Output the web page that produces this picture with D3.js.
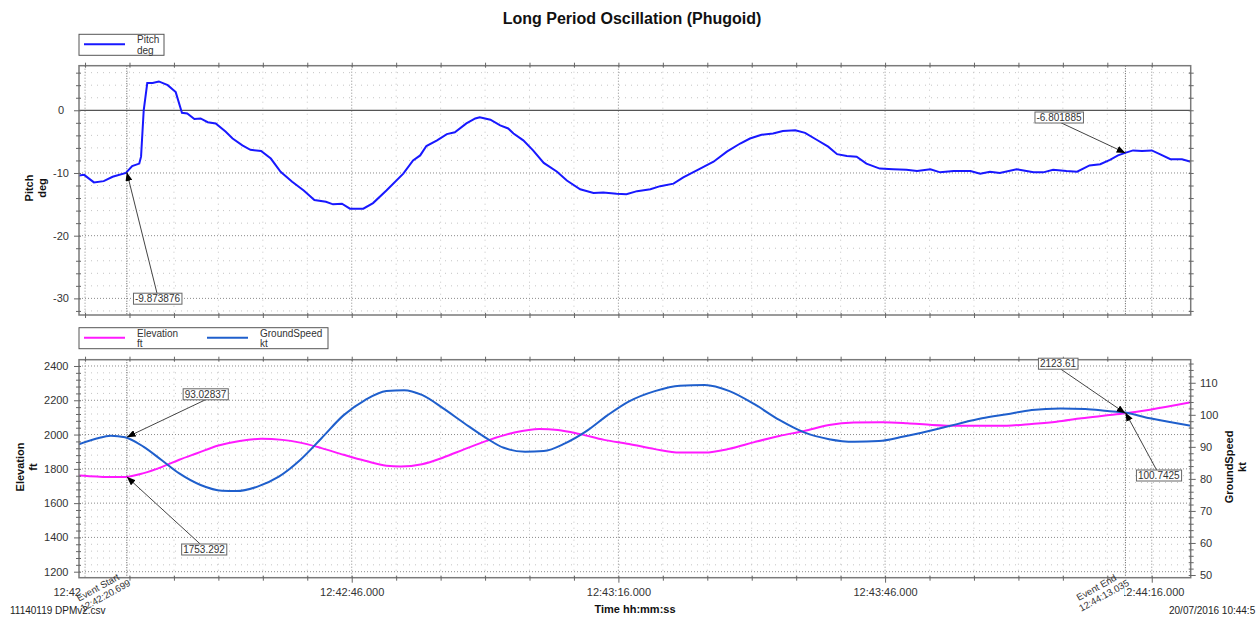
<!DOCTYPE html>
<html>
<head>
<meta charset="utf-8">
<title>Long Period Oscillation (Phugoid)</title>
<script src="https://d3js.org/d3.v7.min.js"></script>
<style>
  body { margin: 0; background: #fff; }
  svg { display: block; }
</style>
</head>
<body>
<svg id="chart"></svg>
<script>
// all times are seconds after 12:42:00
const pitchTime = [15.3, 15.9, 17.0, 18.1, 19.1, 20.6, 21.3, 22.1, 22.3, 22.6, 23.0, 23.6, 24.3, 25.3, 26.2, 26.9,
  27.5, 28.3, 29.0, 29.8, 30.7, 31.8, 32.6, 33.7, 34.6, 35.8, 36.9, 38.0, 39.3, 40.6, 41.8, 43.1, 43.9, 44.9,
  45.8, 47.3, 48.4, 49.9, 51.8, 52.9, 53.7, 54.4, 55.6, 56.7, 57.6, 58.9, 59.9, 60.4, 61.6, 62.7, 63.6, 64.2,
  65.3, 66.4, 67.6, 69.1, 70.2, 71.7, 73.2, 74.3, 75.8, 76.9, 78.1, 79.6, 80.7, 82.2, 83.3, 85.2, 86.7, 88.2,
  89.7, 90.8, 92.1, 93.4, 94.5, 95.9, 97.0, 98.3, 99.6, 100.6, 101.7, 102.8, 103.9, 105.4, 106.9, 108.4, 109.6,
  111.1, 112.2, 113.7, 115.6, 116.7, 117.8, 118.9, 120.8, 122.7, 123.8, 124.9, 126.4, 127.6, 129.0, 130.2,
  131.3, 132.2, 133.0, 133.9, 134.9, 136.0, 136.9, 138.1, 139.4, 140.4];
const pitchDeg = [-10.4, -10.3, -11.5, -11.3, -10.6, -10.0, -8.9, -8.5, -7.4, 0.0, 4.35, 4.35, 4.6, 4.0, 2.9, -0.4,
  -0.5, -1.4, -1.3, -1.9, -2.1, -3.4, -4.5, -5.6, -6.3, -6.5, -7.7, -9.8, -11.4, -12.8, -14.3, -14.6, -15.0, -14.9,
  -15.7, -15.7, -14.8, -12.8, -10.1, -8.0, -7.2, -5.7, -4.8, -3.8, -3.5, -2.1, -1.3, -1.1, -1.5, -2.4, -2.9, -3.7,
  -4.8, -6.4, -8.4, -9.8, -11.2, -12.6, -13.2, -13.1, -13.3, -13.4, -12.9, -12.6, -12.1, -11.7, -10.7, -9.3, -8.2, -6.6,
  -5.3, -4.5, -3.9, -3.7, -3.3, -3.2, -3.6, -4.7, -5.8, -7.0, -7.3, -7.4, -8.5, -9.3, -9.4, -9.5, -9.7,
  -9.4, -9.9, -9.7, -9.7, -10.1, -9.8, -10.0, -9.4, -9.9, -9.9, -9.5, -9.7, -9.8, -8.8, -8.6,
  -7.9, -7.2, -6.8, -6.4, -6.5, -6.4, -7.0, -7.8, -7.8, -8.2];

const elevTime = [15.3, 17.3, 18.9, 20.5, 22.6, 24.6, 26.6, 28.6, 31.0, 33.4, 35.8, 38.2, 40.2, 42.6, 45.1, 47.5,
  49.9, 51.5, 53.9, 56.3, 58.7, 61.5, 64.3, 67.1, 69.2, 71.6, 74.4, 77.2, 80.1, 82.9, 85.7, 88.5, 91.3, 94.1,
  96.9, 99.7, 102.5, 105.7, 108.5, 111.3, 114.1, 116.9, 119.7, 122.5, 125.3, 128.1, 131.0, 133.0, 135.8, 140.4];
const elevFt = [1761, 1755, 1752, 1753, 1775, 1810, 1853, 1891, 1936, 1963, 1975, 1969, 1953, 1921, 1882, 1847,
  1818, 1814, 1827, 1866, 1915, 1969, 2012, 2033, 2027, 2004, 1969, 1945, 1915, 1895, 1895, 1917, 1956, 1992,
  2021, 2056, 2070, 2072, 2066, 2056, 2051, 2051, 2052, 2062, 2075, 2095, 2112, 2124, 2145, 2188];

const speedTime = [15.3, 17.3, 18.9, 20.5, 22.6, 24.6, 26.6, 29.0, 31.4, 33.0, 35.4, 37.8, 40.2, 42.6, 45.1, 47.5,
  49.9, 51.9, 53.9, 56.3, 58.7, 61.1, 63.1, 65.5, 67.6, 70.0, 72.4, 74.8, 77.2, 80.1, 82.9, 85.7, 88.5, 91.3,
  94.1, 96.9, 99.7, 102.5, 105.3, 108.1, 111.3, 114.1, 116.9, 119.7, 122.5, 125.7, 128.5, 131.0, 133.0, 135.8, 140.4];
const speedKt = [90.8, 92.6, 93.5, 93.0, 90.0, 85.9, 81.7, 78.1, 76.3, 76.2, 77.6, 80.7, 85.9, 92.7, 99.9, 104.6,
  107.4, 107.7, 106.2, 102.0, 97.3, 92.8, 89.7, 88.5, 88.7, 91.1, 94.9, 99.9, 104.2, 107.4, 109.1, 109.3, 107.4, 103.3,
  98.4, 94.5, 92.4, 91.6, 91.8, 93.2, 95.2, 97.1, 98.9, 100.2, 101.5, 102.0, 101.8, 101.2, 100.7, 98.9, 96.6];

const timeTicks = [16, 46, 76, 106, 136];
const timeTickLabels = ["12:42:16.000", "12:42:46.000", "12:43:16.000", "12:43:46.000", "12:44:16.000"];
const pitchTicks = [0, -10, -20, -30];
const elevTicks = [1200, 1400, 1600, 1800, 2000, 2200, 2400];
const speedTicks = [50, 60, 70, 80, 90, 100, 110];

const eventTime = [20.699, 133.035];
const eventName = ["Event Start", "Event End"];
const eventLabel = ["12:42:20.699", "12:44:13.035"];
const pitchMarks = [-9.873876, -6.801885];
const elevMarks = [1753.292, 2123.61];
const speedMarks = [93.02837, 100.7425];

const W = 1256, H = 617;
const FONT = "'Liberation Sans', Arial, sans-serif";
const L = 79, R = 1190.7;
const top1 = 65.7, bot1 = 315, top2 = 359.7, bot2 = 577.7;

const base = new Date(2016, 6, 20, 12, 42, 0).getTime();
const toDate = s => new Date(base + s * 1000);

const svg = d3.select("#chart").attr("width", W).attr("height", H)
  .attr("font-family", FONT);

const x = d3.scaleTime().domain([toDate(15.32), toDate(140.38)]).range([L, R]);
const yP = d3.scaleLinear().domain([-32.65, 7.11]).range([bot1, top1]);
const yE = d3.scaleLinear().domain([1165, 2436.7]).range([bot2, top2]);
const yS = d3.scaleLinear().domain([49.16, 117.2]).range([bot2, top2]);

const timeMinor = d3.range(16, 141, 5).filter(d => !timeTicks.includes(d)).map(toDate);
const timeMajor = timeTicks.map(toDate);
const pitchMinor = d3.range(-32, 7, 2).filter(d => d % 10 !== 0);
const elevMinor = d3.range(1200, 2440, 40).filter(d => d % 200 !== 0);
const speedMinor = d3.range(50, 118, 2).filter(d => d % 10 !== 0);

const defs = svg.append("defs");
defs.append("clipPath").attr("id", "clip1").append("rect")
  .attr("x", L).attr("y", top1).attr("width", R - L).attr("height", bot1 - top1);
defs.append("clipPath").attr("id", "clip2").append("rect")
  .attr("x", L).attr("y", top2).attr("width", R - L).attr("height", bot2 - top2);
// time labels are partly hidden where the event labels sit
const clipT = defs.append("clipPath").attr("id", "clipT");
[[0, 81], [140, 1110], [1124, W]].forEach(([a, b]) => {
  clipT.append("rect").attr("x", a).attr("y", 0).attr("width", b - a).attr("height", H);
});
defs.append("marker").attr("id", "arrow")
  .attr("viewBox", "0 0 10 8").attr("refX", 10).attr("refY", 4)
  .attr("markerWidth", 9).attr("markerHeight", 7).attr("markerUnits", "userSpaceOnUse")
  .attr("orient", "auto")
  .append("path").attr("d", "M0,0L10,4L0,8Z").attr("fill", "#000");

// title
svg.append("text").attr("x", 632).attr("y", 24).attr("text-anchor", "middle")
  .attr("font-size", 16).attr("font-weight", "bold").attr("fill", "#111")
  .text("Long Period Oscillation (Phugoid)");

// grids
function gridY(scale, vals, color, dash) {
  svg.append("g").selectAll("line").data(vals).join("line")
    .attr("x1", L).attr("x2", R)
    .attr("y1", d => scale(d)).attr("y2", d => scale(d))
    .attr("stroke", color).attr("stroke-dasharray", dash);
}
function gridX(vals, y0, y1, color, dash) {
  svg.append("g").selectAll("line").data(vals).join("line")
    .attr("x1", d => x(d)).attr("x2", d => x(d))
    .attr("y1", y0).attr("y2", y1)
    .attr("stroke", color).attr("stroke-dasharray", dash);
}
const minC = "#c4c4c4", majC = "#8a8a8a";
gridY(yP, pitchMinor, minC, "1,5");
gridY(yP, pitchTicks.filter(d => d !== 0), majC, "1,2");
gridX(timeMinor, top1, bot1, minC, "1,5");
gridX(timeMajor, top1, bot1, majC, "1,2");
gridY(yE, elevMinor, minC, "1,5");
gridY(yE, elevTicks, majC, "1,2");
gridX(timeMinor, top2, bot2, minC, "1,5");
gridX(timeMajor, top2, bot2, majC, "1,2");

// zero line
svg.append("line").attr("x1", L).attr("x2", R).attr("y1", yP(0)).attr("y2", yP(0))
  .attr("stroke", "#555").attr("stroke-width", 1.2);

// event lines
eventTime.forEach(t => {
  [[top1, bot1], [top2, bot2]].forEach(([a, b]) => {
    svg.append("line").attr("x1", x(toDate(t))).attr("x2", x(toDate(t)))
      .attr("y1", a).attr("y2", b).attr("stroke", "#555").attr("stroke-dasharray", "1,1.5");
  });
});

// series
const linePitch = d3.line().x(d => x(toDate(d[0]))).y(d => yP(d[1]));
svg.append("path").datum(d3.zip(pitchTime, pitchDeg))
  .attr("clip-path", "url(#clip1)")
  .attr("d", linePitch).attr("fill", "none").attr("stroke", "#1818ff").attr("stroke-width", 2);

const lineElev = d3.line().curve(d3.curveMonotoneX).x(d => x(toDate(d[0]))).y(d => yE(d[1]));
svg.append("path").datum(d3.zip(elevTime, elevFt))
  .attr("clip-path", "url(#clip2)")
  .attr("d", lineElev).attr("fill", "none").attr("stroke", "#ff1aff").attr("stroke-width", 2);

const lineSpeed = d3.line().curve(d3.curveMonotoneX).x(d => x(toDate(d[0]))).y(d => yS(d[1]));
svg.append("path").datum(d3.zip(speedTime, speedKt))
  .attr("clip-path", "url(#clip2)")
  .attr("d", lineSpeed).attr("fill", "none").attr("stroke", "#1f5fcc").attr("stroke-width", 2);

// frames
[[top1, bot1], [top2, bot2]].forEach(([a, b]) => {
  svg.append("rect").attr("x", L).attr("y", a).attr("width", R - L).attr("height", b - a)
    .attr("fill", "none").attr("stroke", "#7a7a7a").attr("stroke-width", 1.5);
});

// axes
function drawAxis(axis, tx, ty, attr, inner) {
  const g = svg.append("g").attr("transform", `translate(${tx},${ty})`).call(axis)
    .attr("font-family", FONT).attr("font-size", 11);
  g.select(".domain").remove();
  g.selectAll(".tick line").attr("stroke", "#666").attr(attr, inner);
  g.selectAll(".tick text").attr("fill", "#333");
  return g;
}
const noLabel = () => "";

// pitch plot
drawAxis(d3.axisLeft(yP).tickValues(pitchMinor).tickSize(3).tickFormat(noLabel), L, 0, "x1", 2);
drawAxis(d3.axisLeft(yP).tickValues(pitchTicks).tickSize(5).tickFormat(d => String(d)), L, 0, "x1", 2)
  .selectAll(".tick text").attr("x", -18).attr("text-anchor", "middle");
drawAxis(d3.axisRight(yP).tickValues(pitchMinor.concat(pitchTicks)).tickSize(3).tickFormat(noLabel), R, 0, "x1", -2);
drawAxis(d3.axisTop(x).tickValues(timeMinor.concat(timeMajor)).tickSize(3).tickFormat(noLabel), 0, top1, "y1", 2);
drawAxis(d3.axisBottom(x).tickValues(timeMinor.concat(timeMajor)).tickSize(3).tickFormat(noLabel), 0, bot1, "y1", -2);

// elevation / ground speed plot
drawAxis(d3.axisLeft(yE).tickValues(elevMinor).tickSize(3).tickFormat(noLabel), L, 0, "x1", 2);
drawAxis(d3.axisLeft(yE).tickValues(elevTicks).tickSize(5).tickFormat(d => String(d)), L, 0, "x1", 2)
  .selectAll(".tick text").attr("x", -10.5);
drawAxis(d3.axisRight(yS).tickValues(speedMinor).tickSize(3).tickFormat(noLabel), R, 0, "x1", -2);
drawAxis(d3.axisRight(yS).tickValues(speedTicks).tickSize(5).tickFormat(d => String(d)), R, 0, "x1", -2)
  .selectAll(".tick text").attr("x", 9.3);
drawAxis(d3.axisTop(x).tickValues(timeMinor.concat(timeMajor)).tickSize(3).tickFormat(noLabel), 0, top2, "y1", 2);
drawAxis(d3.axisBottom(x).tickValues(timeMinor).tickSize(3).tickFormat(noLabel), 0, bot2, "y1", -2);
const tAxis = drawAxis(d3.axisBottom(x).tickValues(timeMajor).tickSize(5).tickFormat((d, i) => timeTickLabels[i]), 0, bot2, "y1", -2);
tAxis.selectAll(".tick text").attr("y", 10.5);
svg.append("g").attr("clip-path", "url(#clipT)").node().appendChild(tAxis.node());

// axis titles
function vTitle(lines, cx, cy) {
  lines.forEach((s, i) => {
    svg.append("text").attr("transform", `translate(${cx + i * 12.5},${cy}) rotate(-90)`)
      .attr("text-anchor", "middle").attr("dy", "0.35em")
      .attr("font-size", 11).attr("font-weight", "bold").attr("fill", "#111").text(s);
  });
}
vTitle(["Pitch", "deg"], 29.5, 188);
vTitle(["Elevation", "ft"], 20.5, 467);
vTitle(["GroundSpeed", "kt"], 1229.5, 467);

svg.append("text").attr("x", 635).attr("y", 613).attr("text-anchor", "middle")
  .attr("font-size", 11).attr("font-weight", "bold").attr("fill", "#111").text("Time hh:mm:ss");
svg.append("text").attr("x", 10).attr("y", 614).attr("font-size", 10).attr("fill", "#222")
  .text("11140119 DPMv2.csv");
svg.append("text").attr("x", 1169).attr("y", 614).attr("font-size", 10).attr("fill", "#222")
  .text("20/07/2016 10:44:5");

// legends
function legend(x0, y0, w, items) {
  svg.append("rect").attr("x", x0).attr("y", y0).attr("width", w).attr("height", 21)
    .attr("fill", "#fff").attr("stroke", "#555");
  items.forEach(it => {
    svg.append("line").attr("x1", it.x).attr("x2", it.x + 41).attr("y1", y0 + 10).attr("y2", y0 + 10)
      .attr("stroke", it.color).attr("stroke-width", 2);
    it.text.forEach((s, i) => {
      svg.append("text").attr("x", it.x + 53).attr("y", y0 + 9 + i * 10.5).attr("font-size", 10)
        .attr("fill", "#333").text(s);
    });
  });
}
legend(L, 34.3, 85, [{ x: 84, color: "#1818ff", text: ["Pitch", "deg"] }]);
legend(L, 327.7, 249, [
  { x: 84, color: "#ff1aff", text: ["Elevation", "ft"] },
  { x: 207, color: "#1f5fcc", text: ["GroundSpeed", "kt"] }
]);

// event labels (rotated, two lines)
eventTime.forEach((t, i) => {
  const ex = x(toDate(t));
  [[eventName[i], -29, 587.5], [eventLabel[i], -21.5, 595.5]].forEach(([s, dx, cy]) => {
    svg.append("text").attr("transform", `translate(${ex + dx},${cy}) rotate(-29)`)
      .attr("text-anchor", "middle").attr("dy", "0.35em")
      .attr("font-size", 9.5).attr("fill", "#333").text(s);
  });
});

// annotations
const annots = [
  { v: pitchMarks[0], y: yP, ev: 0, c: [157.5, 298.7], from: [157, 293.3] },
  { v: pitchMarks[1], y: yP, ev: 1, c: [1059, 117.5], from: [1061, 122.8] },
  { v: speedMarks[0], y: yS, ev: 0, c: [205.5, 394.3], from: [205.8, 399.6] },
  { v: elevMarks[0], y: yE, ev: 0, c: [204, 549.5], from: [200.4, 544.2] },
  { v: elevMarks[1], y: yE, ev: 1, c: [1058, 363.7], from: [1060.6, 369] },
  { v: speedMarks[1], y: yS, ev: 1, c: [1158.8, 475.5], from: [1156.7, 470.2] }
];
annots.forEach(a => {
  const px = x(toDate(eventTime[a.ev])), py = a.y(a.v);
  svg.append("line").attr("x1", a.from[0]).attr("y1", a.from[1]).attr("x2", px).attr("y2", py)
    .attr("stroke", "#444").attr("stroke-width", 1).attr("marker-end", "url(#arrow)");
  const bg = svg.append("rect").attr("fill", "#fff").attr("stroke", "#666");
  const tx = svg.append("text").attr("x", a.c[0]).attr("y", a.c[1]).attr("dy", "0.35em")
    .attr("text-anchor", "middle").attr("font-size", 10).attr("fill", "#333").text(String(a.v));
  const b = tx.node().getBBox();
  bg.attr("x", b.x - 1.5).attr("y", a.c[1] - 5.5).attr("width", b.width + 3).attr("height", 11);
});
</script>
</body>
</html>
